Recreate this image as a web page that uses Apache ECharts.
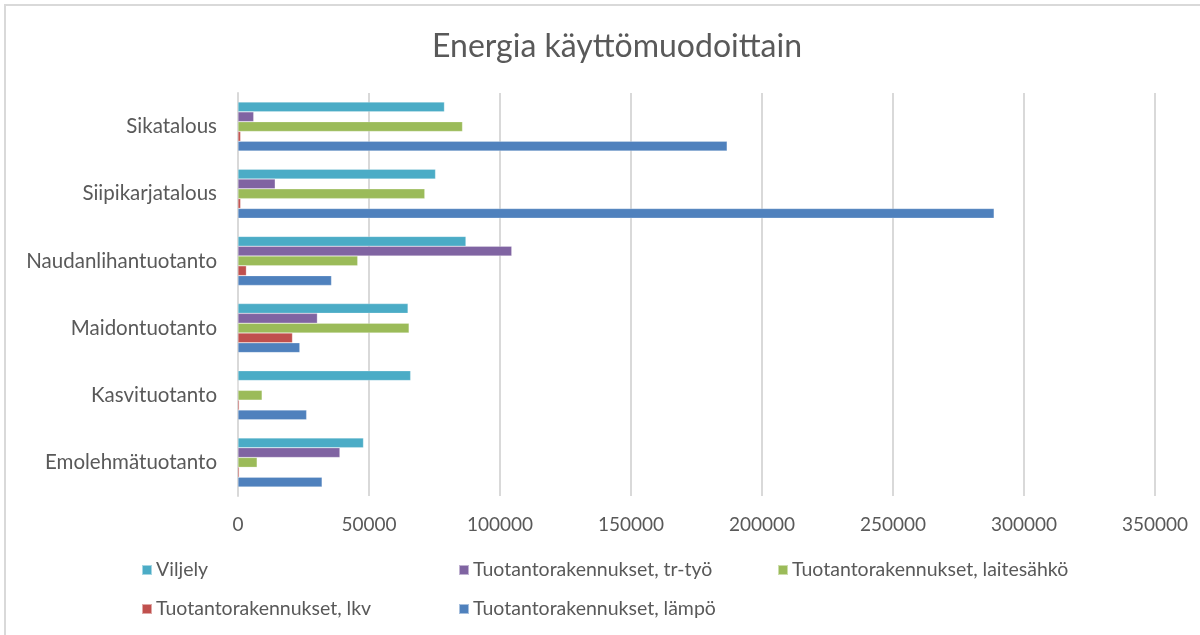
<!DOCTYPE html>
<html>
<head>
<meta charset="utf-8">
<script src="https://cdn.jsdelivr.net/npm/echarts@6/dist/echarts.min.js"></script>
<style>
  html, body { margin: 0; padding: 0; background: #fff; }
  #chart { width: 1200px; height: 635px; }
</style>
</head>
<body>
<div id="chart"></div>
<script>
// categories, bottom to top as the axis draws them
const categories = ['Emolehmätuotanto', 'Kasvituotanto', 'Maidontuotanto', 'Naudanlihantuotanto', 'Siipikarjatalous', 'Sikatalous'];

const viljely    = [47900, 65900, 64900, 87000, 75400, 78800];
const trTyo      = [38900, 0, 30300, 104500, 14200, 6000];
const laitesahko = [7300, 9200, 65300, 45700, 71300, 85700];
const lkv        = [500, 500, 20800, 3200, 1000, 1000];
const lampo      = [32100, 26200, 23600, 35700, 288600, 186700];

const seriesNames = ['Viljely', 'Tuotantorakennukset, tr-työ', 'Tuotantorakennukset, laitesähkö', 'Tuotantorakennukset, lkv', 'Tuotantorakennukset, lämpö'];
const seriesData  = [viljely, trTyo, laitesahko, lkv, lampo];
const colors      = ['#4BACC6', '#8064A2', '#9BBB59', '#C0504D', '#4F81BD'];

const textColor = '#595959';
const font = 'Lato';

// legend slots, one legend each so they line up like the original
const legendPos = [[141, 560], [458, 560], [777, 560], [141, 599], [458, 599]];

let chart = echarts.init(document.getElementById('chart'));

let series = seriesNames.map((name, i) => ({
    name: name,
    type: 'bar',
    data: seriesData[i],
    barGap: '0%',
    barCategoryGap: '27%',
    itemStyle: { color: colors[i], borderColor: 'rgba(255,255,255,0.5)', borderWidth: 0.5 }
}));

let legends = seriesNames.map((name, i) => ({
    data: [name],
    left: legendPos[i][0],
    top: legendPos[i][1],
    icon: 'rect',
    itemWidth: 10,
    itemHeight: 10,
    itemGap: 0,
    padding: 0,
    textStyle: { color: textColor, fontSize: 19.5, fontFamily: font, padding: [0, 0, 0, -1] },
    selectedMode: false
}));

chart.setOption({
    animation: false,
    color: colors,
    title: {
        text: 'Energia käyttömuodoittain',
        left: 427,
        top: 26,
        textStyle: { color: textColor, fontSize: 32, fontWeight: 'normal', fontFamily: font }
    },
    legend: legends,
    grid: { left: 238, right: 45, top: 93, bottom: 139, containLabel: false },
    xAxis: {
        type: 'value',
        min: 0,
        max: 350000,
        interval: 50000,
        axisLine: { show: false },
        axisTick: { show: false },
        axisLabel: { color: textColor, fontSize: 19, fontFamily: font, margin: 19, formatter: v => String(v) },
        splitLine: { lineStyle: { color: '#d9d9d9', width: 2 } }
    },
    yAxis: {
        type: 'category',
        data: categories,
        axisLine: { lineStyle: { color: '#d9d9d9', width: 2 } },
        axisTick: { show: false },
        axisLabel: { color: textColor, fontSize: 20.5, fontFamily: font, margin: 21 }
    },
    graphic: [{
        type: 'rect',
        shape: { x: 5, y: 5, width: 1300, height: 700 },
        style: { fill: null, stroke: '#d9d9d9', lineWidth: 2 },
        silent: true
    }],
    series: series
});
</script>
</body>
</html>
